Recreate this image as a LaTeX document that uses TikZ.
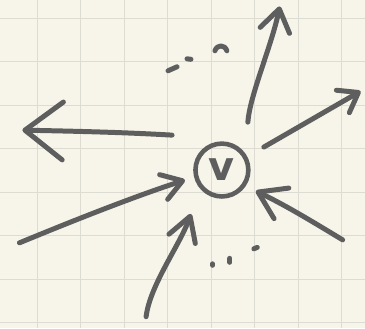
\documentclass[tikz,border=0pt]{standalone}
\usepackage{fontspec}
\newfontfamily\sketchfont{DejaVu Sans}
\usetikzlibrary{arrows.meta}
\definecolor{paper}{HTML}{F7F5EA}
\definecolor{gridline}{HTML}{DDDCD2}
\definecolor{penink}{HTML}{5E5E5E}
\tikzset{
  inkline/.style = {draw=penink, line width=5pt, line cap=round, line join=round},
  head/.style 2 args = {-{Straight Barb[length=#1pt, width=#2pt, round]}},
  vertex/.style  = {circle, inkline, line width=4.6pt, minimum size=53pt, inner sep=0pt,
                    text=penink, font=\sketchfont\bfseries\fontsize{40}{40}\selectfont}
}

\begin{document}
\begin{tikzpicture}[x=1pt, y=-1pt]
  % Paper and grid
  \fill[paper] (0,0) rectangle (365,328);
  \foreach \k in {0,...,7} {
    \draw[gridline, line width=0.9pt] ({36.7+43.6*\k},0) -- ({36.7+43.6*\k},328);
    \draw[gridline, line width=0.9pt] (0,{18+43.6*\k}) -- (365,{18+43.6*\k});
  }
  \useasboundingbox (0,0) rectangle (365,328);

  % Vertex
  \node (v) [vertex] at (222,170) {v};

  % Arrow ends
  \coordinate (outL)  at (172,135);  \coordinate (endL)  at (22,130);
  \coordinate (outU)  at (248,122);  \coordinate (endU)  at (280,6);
  \coordinate (outR)  at (264,147);  \coordinate (endR)  at (361,91);
  \coordinate (srcLL) at (19,243);   \coordinate (inLL)  at (185,180);
  \coordinate (srcB)  at (146,317);  \coordinate (inB)   at (191,214);
  \coordinate (srcLR) at (343,240);  \coordinate (inLR)  at (256,191);

  % Outgoing
  \draw[inkline, head={38}{58}] (outL) .. controls (120,132) and (70,131) .. (endL);
  \draw[inkline, head={22}{30}] (outU) .. controls (250,95) and (272,45) .. (endU);
  \draw[inkline, head={18}{26}] (outR) -- (endR);
  % Incoming
  \draw[inkline, head={20}{26}] (srcLL) .. controls (70,222) and (130,198) .. (inLL);
  \draw[inkline, head={24}{28}] (srcB) .. controls (150,285) and (180,245) .. (inB);
  \draw[inkline, head={26}{34}] (srcLR) .. controls (310,220) and (285,205) .. (inLR);

  % Dots
  \draw[inkline] (168,70.5) -- (177,66.5);
  \draw[inkline] (187,58.5) -- (191,59);
  \draw[inkline] (215,50.5) .. controls (217,44) and (225,44) .. (227,50.5);
  \draw[inkline] (212.7,264) -- (212.7,265.5);
  \draw[inkline] (230,258.5) -- (230,262.5);
  \draw[inkline] (254,249) -- (257.5,247.5);
\end{tikzpicture}
\end{document}
